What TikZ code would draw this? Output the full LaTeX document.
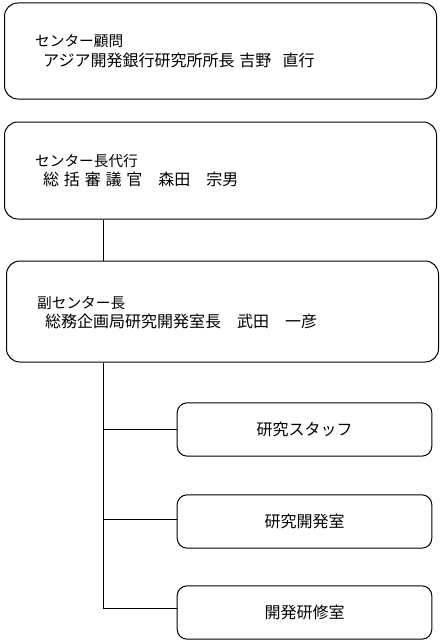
\documentclass[tikz,border=0pt]{standalone}
\usepackage{fontspec}
\newfontfamily\jpfont{Noto Sans CJK JP}

\begin{document}
\begin{tikzpicture}[x=0.75pt, y=-0.75pt, line width=0.75pt,
    headbox/.style={draw, rounded corners=10pt, align=left, text width=278pt,
        inner xsep=23pt, inner ysep=0pt, font=\jpfont\fontsize{11pt}{14.5pt}\selectfont},
    unitbox/.style={draw, rounded corners=7.5pt, minimum width=191pt,
        minimum height=40pt, font=\jpfont\fontsize{12pt}{14.5pt}\selectfont}]

% second line of a head box: larger and indented
\newcommand{\subline}{\fontsize{12pt}{14.5pt}\selectfont\hspace*{6pt}}

\useasboundingbox (0,0) rectangle (442,642);

% x of the vertical trunk line
\coordinate (trunk) at (103,0);

% --- Top boxes ---
\node[headbox, minimum height=72pt] (advisor) at (220.5,51)
    {センター顧問\\[0.5pt]\subline アジア開発銀行研究所所長 吉野\hspace{8.5pt}直行};
\node[headbox, minimum height=72.75pt] (acting) at (220.5,170.5)
    {センター長代行\\\subline\spaceskip=3.6pt 総 括 審 議 官　森田　宗男};
\node[headbox, minimum height=75.75pt, text depth=14pt] (deputy) at (222.5,311.5)
    {副センター長\\\subline 総務企画局研究開発室長　武田　一彦};

\draw (acting.south -| trunk) -- (deputy.north -| trunk);

% --- Units under the deputy ---
\foreach \name/\y/\txt/\dy in {staff/429.5/研究スタッフ/0pt, lab/521.5/研究開発室/1.5pt, training/612.5/開発研修室/3.3pt} {
    \node[unitbox] (\name) at (304.5,\y) {\txt};
    \coordinate (\name-in) at ([yshift=\dy]\name.west);
    \draw (trunk |- \name-in) -- (\name-in);
}
\draw (deputy.south -| trunk) -- (trunk |- training-in);

\end{tikzpicture}
\end{document}
